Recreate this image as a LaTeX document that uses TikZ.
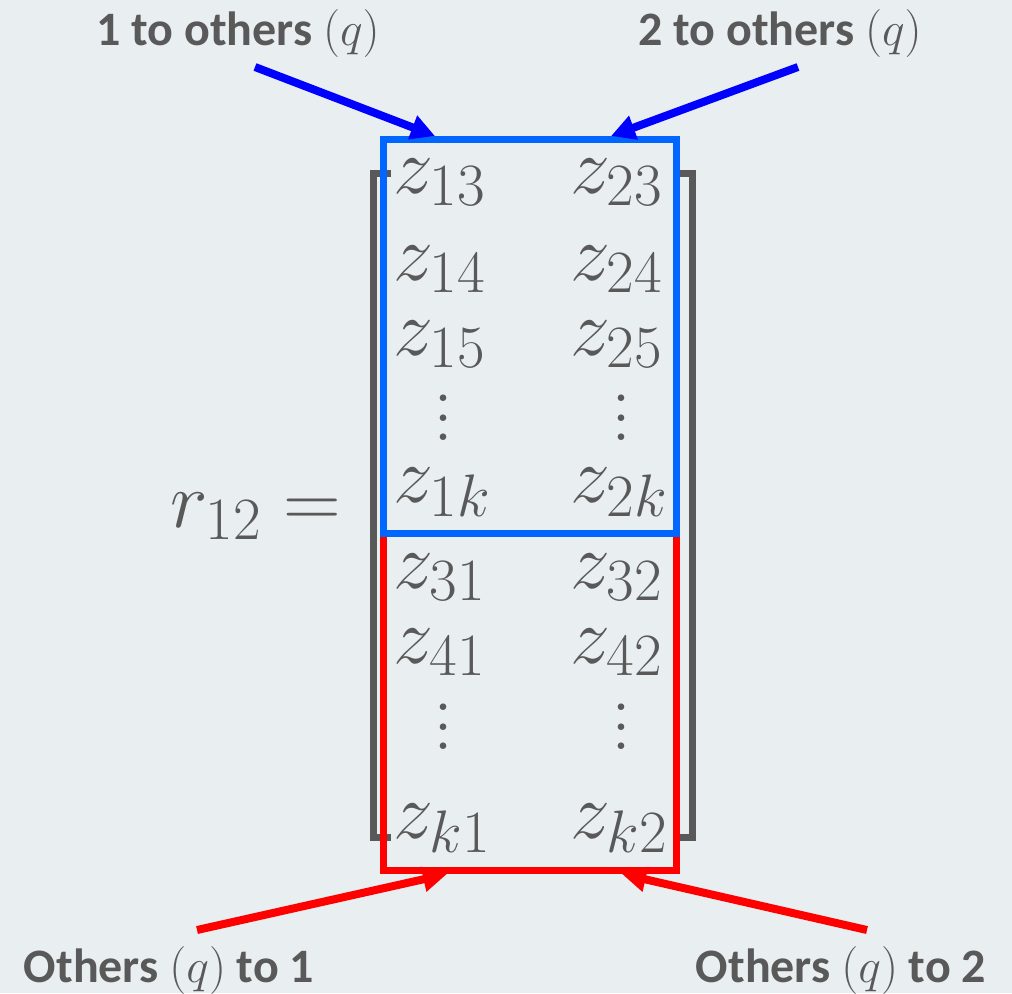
\RequirePackage{fix-cm}
\documentclass[tikz,border=0pt]{standalone}
\usepackage{fontspec}
\newfontfamily\labelfont{Carlito}
\usetikzlibrary{arrows.meta}
\DeclareMathSizes{40}{40}{30}{22}
\definecolor{bgcol}{RGB}{233,238,241}
\definecolor{txtgray}{RGB}{89,89,89}
\definecolor{boxblue}{RGB}{0,102,255}
\definecolor{arrblue}{RGB}{0,0,255}
\definecolor{boxred}{RGB}{255,0,0}
\newcommand{\coldots}{\vbox{\baselineskip=9.75pt\lineskiplimit=-20pt\hbox{.}\hbox{.}\hbox{.}}}

\begin{document}
\begin{tikzpicture}[x=0.5pt, y=-0.5pt,
	entry/.style={anchor=base west, inner sep=0pt, text=txtgray, font=\fontsize{40}{48}\selectfont},
	vdotsnode/.style={inner sep=0pt, text=txtgray, font=\fontsize{40}{48}\selectfont},
	caption/.style={anchor=base, inner sep=0pt, text=txtgray, font=\labelfont\bfseries\fontsize{24}{29}\selectfont},
	bracket/.style={draw=txtgray, line width=3.5pt},
	pointer/.style={line width=4pt, -{Triangle[length=12pt,width=12pt]}}]
	\fill[bgcol] (0,0) rectangle (1012,993);
	\useasboundingbox (0,0) rectangle (1012,993);
	
	% brackets
	\draw[bracket] (391,173) -- (373,173) -- (373,837) -- (391,837);
	\draw[bracket] (675,173) -- (692.5,173) -- (692.5,837) -- (675,837);
	
	% boxes
	\draw[boxred, line width=3.5pt] (383.5,533) -- (383.5,870.5) -- (676.5,870.5) -- (676.5,533);
	\draw[boxblue, line width=3.5pt] (383.5,139) rectangle (676.5,533);
	
	% entries
	\node[entry, anchor=base] (r) at (256,527) {$r_{12} =$};
	\node[entry] (z13) at (393,193) {$z_{13}$};
	\node[entry] (z23) at (570,193) {$z_{23}$};
	\node[entry] (z14) at (393,280) {$z_{14}$};
	\node[entry] (z24) at (570,280) {$z_{24}$};
	\node[entry] (z15) at (393,355) {$z_{15}$};
	\node[entry] (z25) at (570,355) {$z_{25}$};
	\node[vdotsnode] (d1) at (443,418) {\coldots};
	\node[vdotsnode] (d2) at (621,418) {\coldots};
	\node[entry] (z1k) at (393,502) {$z_{1k}$};
	\node[entry] (z2k) at (570,502) {$z_{2k}$};
	\node[entry] (z31) at (393,588) {$z_{31}$};
	\node[entry] (z32) at (570,588) {$z_{32}$};
	\node[entry] (z41) at (393,663) {$z_{41}$};
	\node[entry] (z42) at (570,663) {$z_{42}$};
	\node[vdotsnode] (d3) at (443,727) {\coldots};
	\node[vdotsnode] (d4) at (621,727) {\coldots};
	\node[entry] (zk1) at (393,838) {$z_{k1}$};
	\node[entry] (zk2) at (570,838) {$z_{k2}$};
	
	% labels
	\node[caption] (out1) at (238,45) {1 to others $(q)$};
	\node[caption] (out2) at (780,45) {2 to others $(q)$};
	\node[caption] (in1) at (169,982) {Others $(q)$ to 1};
	\node[caption] (in2) at (841,982) {Others $(q)$ to 2};
	
	% arrows
	\coordinate (out1s) at (255,67);
	\coordinate (out1t) at (435,136);
	\coordinate (out2s) at (798,67);
	\coordinate (out2t) at (611,136);
	\coordinate (in1s) at (197,930);
	\coordinate (in1t) at (447,874);
	\coordinate (in2s) at (867,930);
	\coordinate (in2t) at (622,874);
	\draw[pointer, arrblue] (out1s) -- (out1t);
	\draw[pointer, arrblue] (out2s) -- (out2t);
	\draw[pointer, boxred] (in1s) -- (in1t);
	\draw[pointer, boxred] (in2s) -- (in2t);
\end{tikzpicture}
\end{document}
